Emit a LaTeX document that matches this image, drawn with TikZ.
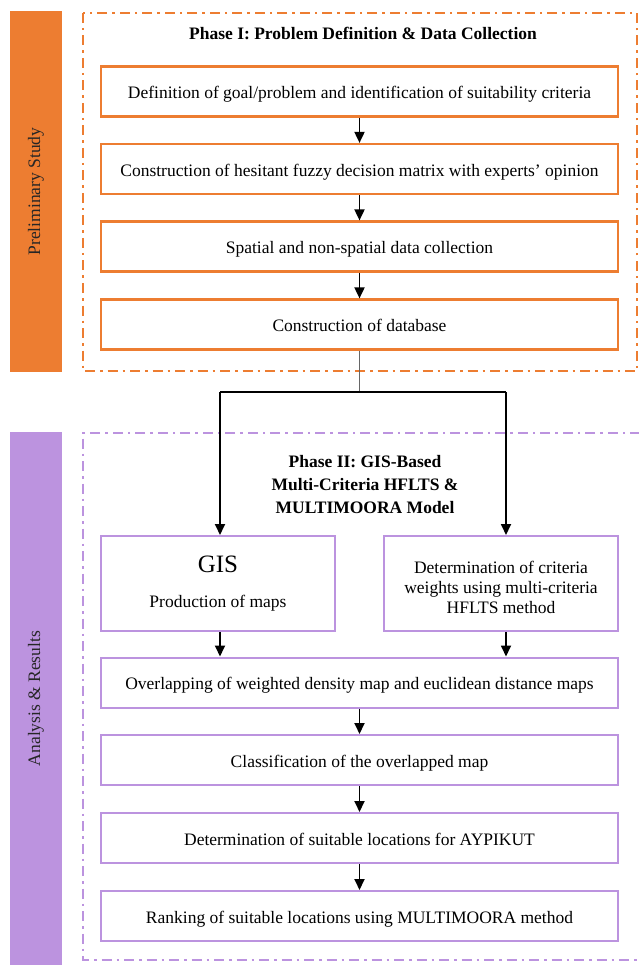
\documentclass[tikz,border=0pt]{standalone}
\usepackage{fontspec}
\setmainfont{Liberation Serif}
\usetikzlibrary{arrows.meta}
\definecolor{oOrange}{HTML}{ED7D31}
\definecolor{pPurple}{HTML}{BC93DF}
\begin{document}
\begin{tikzpicture}[x=1pt,y=-1pt,
  txt/.style={font=\fontsize{17.5}{20}\selectfont},
  ttl/.style={font=\fontsize{17.5}{23}\selectfont\bfseries, align=center, inner sep=0pt},
  oneline/.style={text height=18pt, text depth=3.3pt},
  obox/.style={draw=oOrange, line width=2.2pt, fill=white, minimum width=517pt, minimum height=50pt, inner sep=0pt, txt},
  pbox/.style={draw=pPurple, line width=2pt, fill=white, minimum height=50pt, inner sep=0pt, txt, align=center},
  frameline/.style={line width=1.8pt, dash pattern=on 10pt off 5pt on 2.5pt off 5pt},
  bar/.style={rotate=90, minimum height=52pt, inner sep=0pt, txt, text=black!85},
  arr/.style={line width=1.8pt, -{Triangle[length=11pt,width=10pt]}},
]
\useasboundingbox (0,0) rectangle (638,965);

% side bars
\node[bar, fill=oOrange, minimum width=361pt] (bar1) at (36,191.5) {Preliminary Study};
\node[bar, fill=pPurple, minimum width=533pt] (bar2) at (36,698.5) {Analysis \& Results};

% frames
\draw[frameline, draw=oOrange] (83,13) rectangle (637,371);
\draw[frameline, draw=pPurple] (640,433) -- (83,433) -- (83,960) -- (640,960);

% Phase I
\node[ttl] (t1) at (363,33) {Phase I: Problem Definition \& Data Collection};
\node[obox, oneline] (b1) at (359.5,91.5) {Definition of goal/problem and identification of suitability criteria};
\node[obox, oneline] (b2) at (359.5,169) {Construction of hesitant fuzzy decision matrix with experts’ opinion};
\node[obox, oneline] (b3) at (359.5,246.5) {Spatial and non-spatial data collection};
\node[obox, oneline] (b4) at (359.5,324.5) {Construction of database};

\draw[arr] (b1.south) -- (b2.north);
\draw[arr] (b2.south) -- (b3.north);
\draw[arr] (b3.south) -- (b4.north);

% Phase II
\node[ttl] (t2) at (365,485) {Phase II: GIS-Based\\Multi-Criteria HFLTS \&\\MULTIMOORA Model};
\node[pbox, minimum width=234pt, minimum height=95pt] (gis) at (218,583.5) {{\fontsize{25}{28}\selectfont GIS}\\[15pt]Production of maps};
\node[pbox, minimum width=234pt, minimum height=95pt] (crit) at (501,583.5) {\raisebox{-6pt}[\height][\depth]{\begin{tabular}{@{}c@{}}Determination of criteria\\weights using multi-criteria\\HFLTS method\end{tabular}}};
\node[pbox, oneline, minimum width=517pt] (ov) at (359.5,682.5) {Overlapping of weighted density map and euclidean distance maps};
\node[pbox, oneline, minimum width=517pt] (cl) at (359.5,760) {Classification of the overlapped map};
\node[pbox, oneline, minimum width=517pt] (dt) at (359.5,838) {Determination of suitable locations for AYPIKUT};
\node[pbox, oneline, minimum width=517pt] (rk) at (359.5,916) {Ranking of suitable locations using MULTIMOORA method};

% split connector
\coordinate (sp) at (359.5,392);
\coordinate (spl) at (220,392);
\coordinate (spr) at (506,392);
\draw[line width=0.9pt, black!60] (b4.south) -- (sp);
\draw[line width=1.6pt] (spl) -- (spr);
\draw[arr] (spl) -- (spl |- gis.north);
\draw[arr] (spr) -- (spr |- crit.north);

\draw[arr] (gis.south -| spl) -- (ov.north -| spl);
\draw[arr] (crit.south -| spr) -- (ov.north -| spr);
\draw[arr] (ov.south) -- (cl.north);
\draw[arr] (cl.south) -- (dt.north);
\draw[arr] (dt.south) -- (rk.north);
\end{tikzpicture}
\end{document}
